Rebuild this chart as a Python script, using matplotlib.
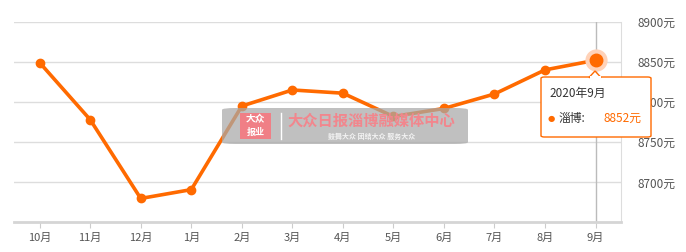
import matplotlib
matplotlib.use("Agg")
import matplotlib.pyplot as plt
from matplotlib.patches import FancyBboxPatch, Polygon, Rectangle
import numpy as np

plt.rcParams['font.family'] = ['Noto Sans CJK SC', 'DejaVu Sans']

months = ['10月', '11月', '12月', '1月', '2月', '3月', '4月', '5月', '6月', '7月', '8月', '9月']
prices = [8849, 8778, 8680, 8691, 8795, 8815, 8811, 8782, 8792, 8810, 8840, 8852]
yticks = [8700, 8750, 8800, 8850, 8900]
ytick_labels = [f'{v}元' for v in yticks]
tooltip_title = '2020年9月'
tooltip_series = '淄博:'
tooltip_value = '8852元'

orange = '#ff6a00'

fig = plt.figure(figsize=(6.86, 2.52), dpi=100)
ax = fig.add_axes([0.021, 0.120, 0.884, 0.794])
x = np.arange(len(months))

ax.set_xlim(-0.5, len(months) - 0.5)
ax.set_ylim(8651, 8900)

ax.plot(x, prices, color=orange, lw=2.6, marker='o', ms=6, zorder=3, solid_joinstyle='round')
# highlighted last point
ax.plot(x[-1], prices[-1], 'o', ms=15, color='#ffd2b8', zorder=3.5)
ax.plot(x[-1], prices[-1], 'o', ms=9, color=orange, zorder=4)
# crosshair
ax.axvline(x[-1], color='#bbbbbb', lw=1, zorder=2)

ax.set_yticks(yticks)
ax.set_yticklabels(ytick_labels)
ax.yaxis.tick_right()
ax.yaxis.grid(True, color='#dddddd', lw=1)
ax.set_axisbelow(True)
ax.tick_params(axis='y', length=0, labelsize=8.5, labelcolor='#555555', pad=12)
ax.set_xticks(x)
ax.set_xticklabels(months)
ax.tick_params(axis='x', length=4, color='#cccccc', labelsize=8, labelcolor='#555555', pad=4)
for s in ['top', 'left']:
    ax.spines[s].set_visible(False)
ax.spines['right'].set_color('#dddddd')
ax.spines['bottom'].set_color('#d5d5d5')
ax.spines['bottom'].set_linewidth(2)

# watermark (figure pixel coords)
W, H = 686, 252
def fx(px):
    return px / W
def fy(py):
    return 1 - py / H

wm = FancyBboxPatch((fx(222), fy(144)), fx(468) - fx(222), fy(108) - fy(144),
                    boxstyle='round,pad=0,rounding_size=0.02', transform=fig.transFigure,
                    facecolor='#a8a8a8', edgecolor='none', alpha=0.72, zorder=10,
                    mutation_aspect=H / W * 1.0)
fig.patches.append(wm)
logo = Rectangle((fx(240), fy(139)), fx(271) - fx(240), fy(113) - fy(139),
                 transform=fig.transFigure, facecolor='#f07f86', edgecolor='none', zorder=11)
fig.patches.append(logo)
fig.text(fx(255.5), fy(119), '大众', transform=fig.transFigure, fontsize=7, color='white',
         ha='center', va='center', fontweight='bold', zorder=12, style='italic')
fig.text(fx(255.5), fy(132), '报业', transform=fig.transFigure, fontsize=6.5, color='white',
         ha='center', va='center', fontweight='bold', zorder=12)
fig.lines.append(plt.Line2D([fx(281), fx(281)], [fy(139), fy(113)], transform=fig.transFigure,
                            color='white', lw=1, zorder=12))
fig.text(fx(287), fy(121), '大众日报淄博融媒体中心', transform=fig.transFigure, fontsize=11,
         color='#f2868d', ha='left', va='center', fontweight='bold', zorder=12)
fig.text(fx(372), fy(136), '鼓舞大众 团结大众 服务大众', transform=fig.transFigure, fontsize=5,
         color='#f2f2f2', ha='center', va='center', fontweight='bold', zorder=12)

# tooltip
tb = FancyBboxPatch((fx(541), fy(137)), fx(651) - fx(541), fy(77) - fy(137),
                    boxstyle='round,pad=0,rounding_size=0.005', transform=fig.transFigure,
                    facecolor='white', edgecolor=orange, lw=1, zorder=13)
fig.patches.append(tb)
tri = Polygon([[fx(589), fy(77.5)], [fx(595), fy(71)], [fx(601), fy(77.5)]], closed=True,
              transform=fig.transFigure, facecolor='white', edgecolor=orange, lw=1, zorder=13)
fig.patches.append(tri)
fig.patches.append(Rectangle((fx(589.5), fy(78.5)), fx(11), fy(76) - fy(78.5) , transform=fig.transFigure,
                             facecolor='white', edgecolor='none', zorder=14))
fig.text(fx(549), fy(93), tooltip_title, transform=fig.transFigure, fontsize=8.5, color='#333333',
         ha='left', va='center', zorder=15)
fig.text(fx(551), fy(118.5), '●', transform=fig.transFigure, fontsize=6, color=orange,
         ha='center', va='center', zorder=15, family='DejaVu Sans')
fig.text(fx(558), fy(118.5), tooltip_series, transform=fig.transFigure, fontsize=8.5, color='#333333',
         ha='left', va='center', zorder=15)
fig.text(fx(641), fy(118.5), tooltip_value, transform=fig.transFigure, fontsize=8.5, color=orange,
         ha='right', va='center', zorder=15)

fig.savefig('out.png', dpi=100)
